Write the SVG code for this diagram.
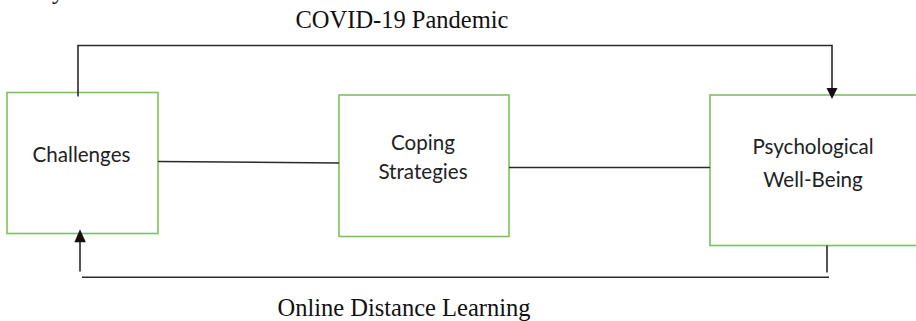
<svg xmlns="http://www.w3.org/2000/svg" width="916" height="321" viewBox="0 0 916 321">
  <style>
    .box { fill: #ffffff; stroke: #7cc25a; stroke-width: 1.6; }
    .node-label { font-family: "Lato", "Open Sans", sans-serif; font-size: 20.6px; fill: #222222; text-anchor: middle; }
    .caption { font-family: "Liberation Serif", "Times New Roman", serif; font-size: 24.5px; fill: #111111; text-anchor: middle; }
    .wire { fill: none; stroke: #2a2a2a; stroke-width: 1.6; }
    .head { fill: #111111; }
  </style>

  <rect width="916" height="321" fill="#ffffff"/>

  <!-- descender of a line cut off above the frame -->
  <text class="caption" x="58" y="-1">y</text>

  <!-- captions -->
  <text class="caption" x="402" y="28">COVID-19 Pandemic</text>
  <text class="caption" x="404" y="316">Online Distance Learning</text>

  <!-- nodes -->
  <g id="challenges">
    <rect class="box" x="7" y="92.5" width="151" height="141"/>
    <text class="node-label" x="81.5" y="162">Challenges</text>
  </g>

  <g id="coping-strategies">
    <rect class="box" x="339" y="95" width="170" height="141.5"/>
    <text class="node-label" x="423" y="149.5">Coping</text>
    <text class="node-label" x="423" y="178.5">Strategies</text>
  </g>

  <g id="psychological-well-being">
    <rect class="box" x="710" y="95" width="220" height="150.5"/>
    <text class="node-label" x="813" y="153.5">Psychological</text>
    <text class="node-label" x="813" y="186.5">Well-Being</text>
  </g>

  <!-- connectors -->
  <g id="connectors">
    <!-- Challenges to Coping Strategies -->
    <line class="wire" x1="158" y1="161.5" x2="339" y2="163"/>
    <!-- Coping Strategies to Psychological Well-Being -->
    <line class="wire" x1="509" y1="167.5" x2="710" y2="167.5"/>

    <!-- upper loop: Challenges to Psychological Well-Being -->
    <polyline class="wire" points="78,96.5 78,45.5 832,45.5 832,89"/>
    <polygon class="head" points="826.5,88 837.5,88 832,99"/>

    <!-- lower loop: Psychological Well-Being back to Challenges -->
    <line class="wire" x1="827" y1="245.5" x2="827" y2="272.5"/>
    <line class="wire" x1="82" y1="277.3" x2="829" y2="277.3"/>
    <line class="wire" x1="80" y1="271.5" x2="80" y2="241"/>
    <polygon class="head" points="74.3,242.3 85.8,242.3 80,229.3"/>
  </g>
</svg>
